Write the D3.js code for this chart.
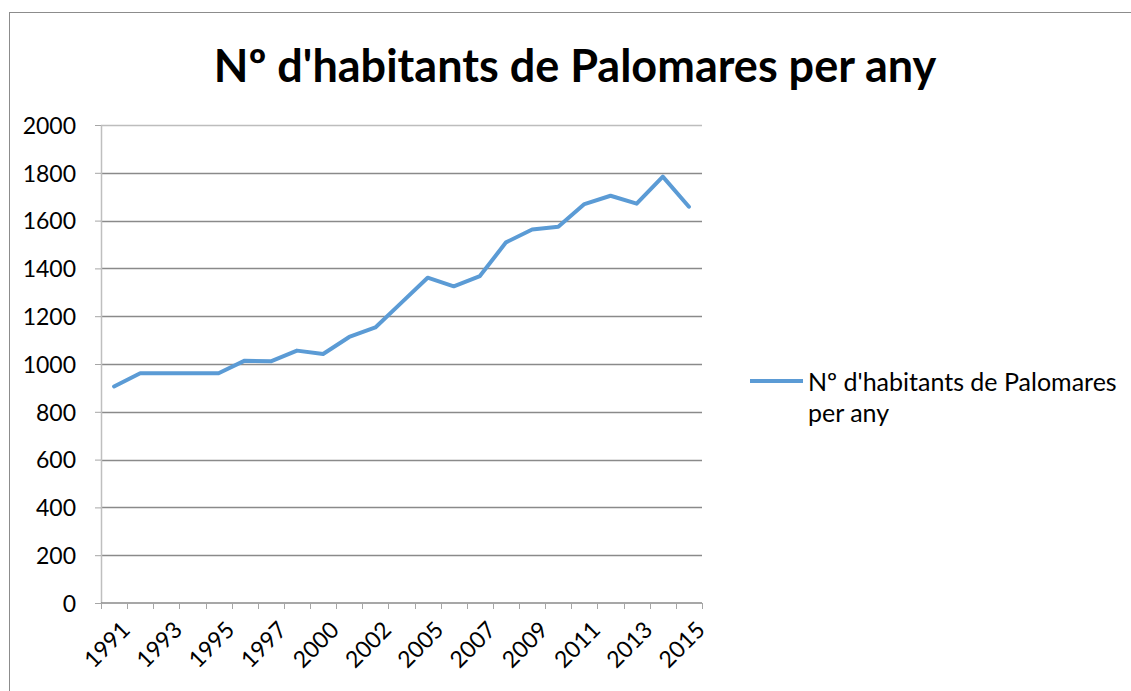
<!DOCTYPE html>
<html>
<head>
<meta charset="utf-8">
<script src="https://cdn.jsdelivr.net/npm/d3@7"></script>
<style>
  body { margin: 0; background: #fff; }
  svg text { font-family: Lato, "Open Sans", sans-serif; fill: #000; }
</style>
</head>
<body>
<div id="chart"></div>
<script>
// years on the category axis (only every other one is labelled)
var years = ["1991", "1992", "1993", "1994", "1995", "1996", "1997", "1998",
             "2000", "2001", "2002", "2003", "2005", "2006", "2007", "2008",
             "2009", "2010", "2011", "2012", "2013", "2014", "2015"];
var habitants = [906, 961, 961, 961, 961, 1014, 1011, 1056,
                 1042, 1113, 1153, 1257, 1361, 1325, 1368, 1509,
                 1563, 1574, 1669, 1704, 1671, 1784, 1658];
var yTicks = [0, 200, 400, 600, 800, 1000, 1200, 1400, 1600, 1800, 2000];
var title = "Nº d'habitants de Palomares per any";
var seriesName = ["Nº d'habitants de Palomares", "per any"];

var W = 1131, H = 691;
var margin = {top: 125, left: 101, right: 429, bottom: 88};
var width = W - margin.left - margin.right,
    height = H - margin.top - margin.bottom;

var svg = d3.select("#chart").append("svg")
    .attr("width", W)
    .attr("height", H);

// chart frame
svg.append("rect")
    .attr("x", 9.5).attr("y", 12.5)
    .attr("width", W + 20).attr("height", H + 20)
    .attr("fill", "none")
    .attr("stroke", "#8c8c8c");

svg.append("text")
    .attr("x", 575).attr("y", 82)
    .attr("text-anchor", "middle")
    .style("font-size", "45px")
    .style("font-weight", "bold")
    .text(title);

var g = svg.append("g")
    .attr("transform", "translate(" + margin.left + "," + margin.top + ")");

var x = d3.scaleBand().domain(years).range([0, width]);
var y = d3.scaleLinear().domain([0, 2000]).range([height, 0]);

// gridlines
g.append("g")
    .selectAll("line")
    .data(yTicks.filter(function(d) { return d > 0; }))
    .enter().append("line")
    .attr("x1", 0).attr("x2", width)
    .attr("y1", function(d) { return Math.round(y(d)) + 0.5; })
    .attr("y2", function(d) { return Math.round(y(d)) + 0.5; })
    .attr("stroke", function(d) { return d == 2000 ? "#bdbdbd" : "#8a8a8a"; })
    .attr("stroke-width", 1.3);

// y axis
var gy = g.append("g")
    .call(d3.axisLeft(y).tickValues(yTicks).tickFormat(d3.format("d"))
        .tickSize(6).tickPadding(19).tickSizeOuter(0));
gy.select(".domain").attr("stroke", "#bfbfbf").attr("stroke-width", 1.5);
gy.selectAll(".tick line").attr("stroke", "#a6a6a6");
gy.selectAll("text").style("font-size", "23px").attr("dy", "0.36em");

// x axis: ticks between categories
var gx = g.append("g")
    .attr("transform", "translate(0," + height + ")");
gx.append("line")
    .attr("x1", 0).attr("x2", width)
    .attr("stroke", "#8a8a8a").attr("stroke-width", 1.3);
var bounds = years.map(function(d) { return x(d); }).concat([width]);
gx.selectAll(".tk")
    .data(bounds)
    .enter().append("line")
    .attr("class", "tk")
    .attr("x1", function(d) { return Math.round(d) + 0.5; })
    .attr("x2", function(d) { return Math.round(d) + 0.5; })
    .attr("y1", 0).attr("y2", 6)
    .attr("stroke", "#a6a6a6");
gx.selectAll(".lbl")
    .data(years.filter(function(d, i) { return i % 2 == 0; }))
    .enter().append("text")
    .attr("class", "lbl")
    .attr("transform", function(d) {
        return "translate(" + (x(d) + x.bandwidth() / 2 + 6) + ",17) rotate(-45)";
    })
    .attr("text-anchor", "end")
    .attr("dy", "0.7em")
    .style("font-size", "23px")
    .text(function(d) { return d; });

// the line
var line = d3.line()
    .x(function(d, i) { return x(years[i]) + x.bandwidth() / 2; })
    .y(function(d) { return y(d); });

g.append("path")
    .datum(habitants)
    .attr("d", line)
    .attr("fill", "none")
    .attr("stroke", "#5b9bd5")
    .attr("stroke-width", 4)
    .attr("stroke-linejoin", "round")
    .attr("stroke-linecap", "round");

// legend
var leg = svg.append("g").attr("transform", "translate(750,381)");
leg.append("line")
    .attr("x1", 0).attr("x2", 53)
    .attr("stroke", "#5b9bd5").attr("stroke-width", 4);
leg.selectAll("text")
    .data(seriesName)
    .enter().append("text")
    .attr("x", 58)
    .attr("y", function(d, i) { return 10 + i * 31; })
    .style("font-size", "25px")
    .text(function(d) { return d; });
</script>
</body>
</html>
